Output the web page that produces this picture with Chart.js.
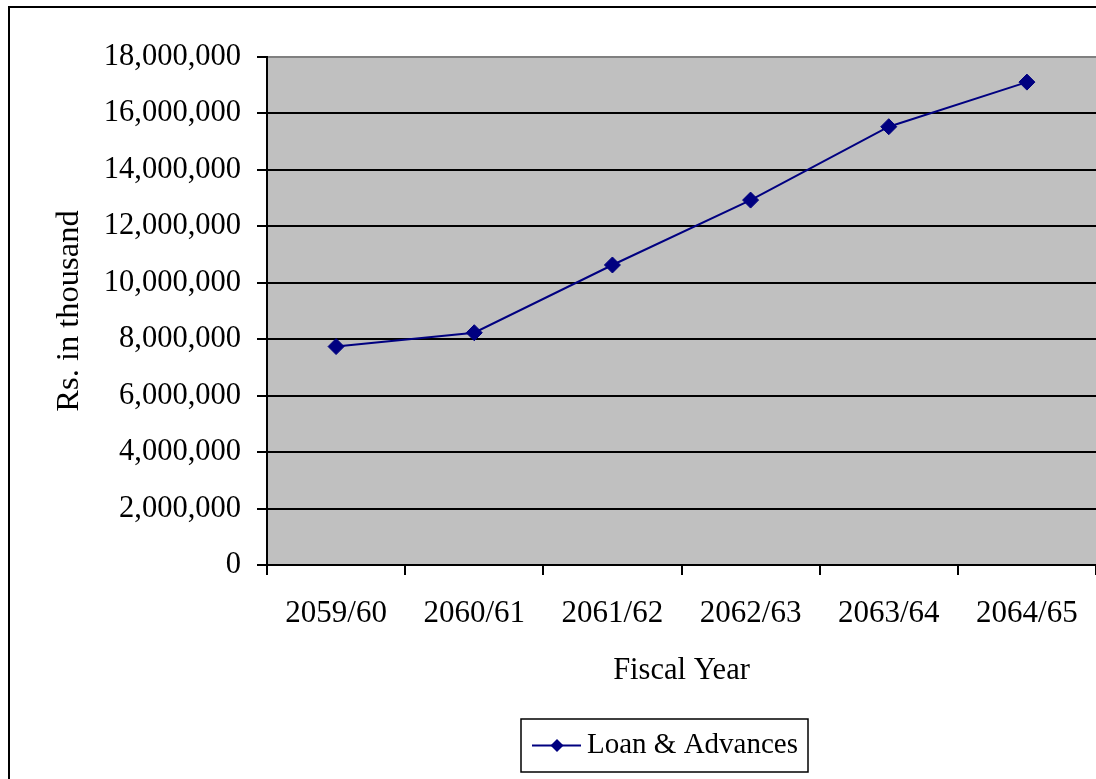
<!DOCTYPE html>
<html>
<head>
<meta charset="utf-8">
<title>Loan & Advances</title>
<script src="https://cdn.jsdelivr.net/npm/chart.js@4/dist/chart.umd.min.js"></script>
<style>
  html, body { margin: 0; padding: 0; background: #fff; }
  canvas { display: block; }
</style>
</head>
<body>
<canvas id="c" width="1096" height="779"></canvas>
<script>
// Fiscal years and loan & advances (Rs. in thousand)
const fiscalYears = ['2059/60', '2060/61', '2061/62', '2062/63', '2063/64', '2064/65'];
const loanAdvances = [7740000, 8230000, 10630000, 12930000, 15530000, 17110000];
const yTickMax = 18000000;
const yTickStep = 2000000;

const FONT = '"Liberation Serif", "Times New Roman", serif';
const NAVY = '#000080';

// Grey plot background, grey top frame, outer chart border
const frame = {
  id: 'frame',
  beforeDraw(chart) {
    const { ctx, chartArea: a } = chart;
    ctx.save();
    ctx.fillStyle = '#fff';
    ctx.fillRect(0, 0, chart.width, chart.height);
    ctx.fillStyle = '#c0c0c0';
    ctx.fillRect(a.left, a.top, a.right - a.left, a.bottom - a.top);
    ctx.restore();
  },
  beforeDatasetsDraw(chart) {
    const { ctx, chartArea: a } = chart;
    ctx.save();
    ctx.strokeStyle = '#808080';
    ctx.lineWidth = 2;
    ctx.beginPath();
    ctx.moveTo(a.left + 1, a.top);
    ctx.lineTo(a.right, a.top);
    ctx.stroke();
    ctx.restore();
  },
  afterDraw(chart) {
    const { ctx } = chart;
    ctx.save();
    ctx.strokeStyle = '#000';
    ctx.lineWidth = 2;
    ctx.strokeRect(9, 7, chart.width + 20, chart.height + 20);
    ctx.restore();
  }
};

// Boxed legend below the axis title
const boxedLegend = {
  id: 'boxedLegend',
  afterDraw(chart) {
    const { ctx } = chart;
    const ds = chart.data.datasets[0];
    const bx = 521, by = 719, bw = 287, bh = 53;
    const cy = by + bh / 2;
    ctx.save();
    ctx.strokeStyle = '#000';
    ctx.lineWidth = 1.5;
    ctx.strokeRect(bx, by, bw, bh);
    ctx.strokeStyle = ds.borderColor;
    ctx.lineWidth = 2;
    ctx.beginPath();
    ctx.moveTo(bx + 11, cy);
    ctx.lineTo(bx + 60, cy);
    ctx.stroke();
    ctx.fillStyle = ds.pointBackgroundColor;
    const r = 6.5, mx = bx + 36;
    ctx.beginPath();
    ctx.moveTo(mx, cy - r);
    ctx.lineTo(mx + r, cy);
    ctx.lineTo(mx, cy + r);
    ctx.lineTo(mx - r, cy);
    ctx.closePath();
    ctx.fill();
    ctx.fillStyle = '#000';
    ctx.font = '29px ' + FONT;
    ctx.textBaseline = 'middle';
    ctx.textAlign = 'left';
    ctx.fillText(ds.label, bx + 66, cy);
    ctx.restore();
  }
};

Chart.defaults.color = '#000';
Chart.defaults.font.family = FONT;
Chart.defaults.font.size = 30;

new Chart(document.getElementById('c'), {
  type: 'line',
  data: {
    labels: fiscalYears,
    datasets: [{
      label: 'Loan & Advances',
      data: loanAdvances,
      borderColor: NAVY,
      backgroundColor: NAVY,
      pointBackgroundColor: NAVY,
      pointBorderColor: NAVY,
      borderWidth: 2,
      pointStyle: 'rectRot',
      pointRadius: 8,
      pointBorderWidth: 1,
      tension: 0,
      fill: false
    }]
  },
  options: {
    responsive: false,
    animation: false,
    devicePixelRatio: 1,
    layout: { autoPadding: false, padding: { left: 40, top: 57, right: 0, bottom: 90 } },
    plugins: {
      legend: { display: false },
      tooltip: { enabled: false }
    },
    scales: {
      x: {
        type: 'category',
        offset: true,
        border: { display: true, color: '#000', width: 2 },
        grid: {
          offset: true,
          drawOnChartArea: false,
          drawTicks: true,
          tickLength: 10,
          color: '#000',
          lineWidth: 2
        },
        ticks: { padding: 20, maxRotation: 0, autoSkip: false, font: { size: 31 } },
        title: {
          display: true,
          text: 'Fiscal Year',
          font: { size: 30.5 },
          padding: { top: 0, bottom: 0 }
        },
        afterFit(scale) {
          scale.height = 124;
          scale.paddingLeft = 0;
          scale.paddingRight = 0;
        }
      },
      y: {
        min: 0,
        max: yTickMax,
        border: { display: true, color: '#000', width: 2 },
        grid: {
          color: '#000',
          lineWidth: 2,
          drawTicks: true,
          tickLength: 10
        },
        ticks: {
          stepSize: yTickStep,
          padding: 16,
          font: { size: 30.5 },
          callback: v => Number(v).toLocaleString('en-US')
        },
        title: {
          display: true,
          text: 'Rs. in thousand',
          font: { size: 32.5 },
          padding: { top: 10, bottom: 0 }
        },
        afterFit(scale) {
          scale.width = 227;
          scale.paddingTop = 0;
          scale.paddingBottom = 0;
        }
      }
    }
  },
  plugins: [frame, boxedLegend]
});
</script>
</body>
</html>
